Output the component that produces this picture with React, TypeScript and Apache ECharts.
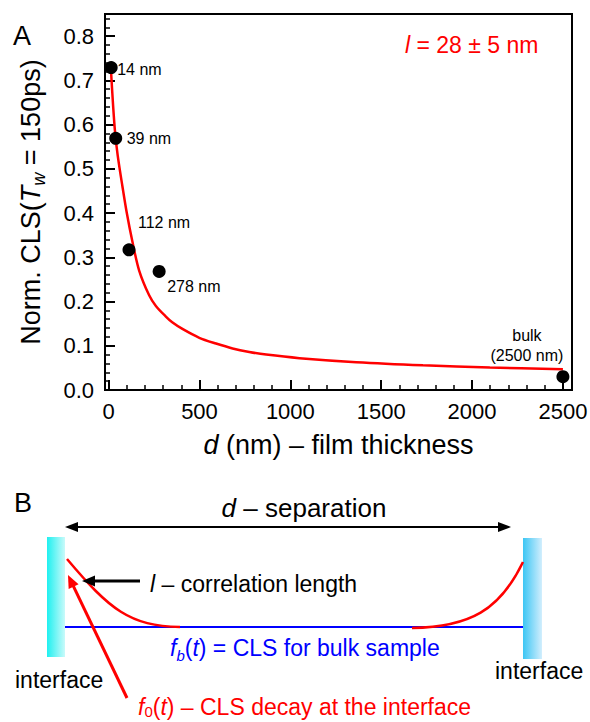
import React, { useEffect, useRef } from "react";
import * as echarts from "echarts";

// ---------- data ----------
const thicknessNm = [14, 39, 112, 278, 2500];
const normCLS = [0.729, 0.569, 0.317, 0.268, 0.03];
const pointLabels = ["14 nm", "39 nm", "112 nm", "278 nm", "bulk\n(2500 nm)"];

const fitD = [14, 25, 36, 50, 76, 100, 131, 168, 223, 260, 315, 350, 406, 499, 591, 682, 774, 867, 1050, 1363, 1730, 2098, 2500];
const fitCLS = [0.715, 0.64, 0.58, 0.53, 0.46, 0.4, 0.335, 0.27, 0.214, 0.19, 0.166, 0.153, 0.138, 0.118, 0.105, 0.094, 0.086, 0.08, 0.072, 0.063, 0.056, 0.051, 0.047];

const xMajorTicks = [0, 500, 1000, 1500, 2000, 2500];
const yMajorTicks = [0, 0.1, 0.2, 0.3, 0.4, 0.5, 0.6, 0.7, 0.8];
const xMinorTicks = Array.from({ length: 26 }, (_, i) => i * 100);
const yMinorTicks = Array.from({ length: 43 }, (_, i) => +(i * 0.02).toFixed(2));

const FONT = "'Liberation Sans', Arial, Helvetica, sans-serif";

// label placement per point (relative to point centre, px)
const labelPlacement = [
  { align: "left", offset: [6, 2] },
  { align: "left", offset: [11, 0] },
  { align: "left", offset: [9, -27] },
  { align: "left", offset: [8, 15] },
  { align: "center", offset: [-36, -31] },
];

function buildOption() {
  const scatterData = thicknessNm.map((d, i) => ({
    value: [d, normCLS[i]],
    label: {
      show: true,
      position: "inside",
      formatter: pointLabels[i],
      align: labelPlacement[i].align,
      verticalAlign: "middle",
      offset: labelPlacement[i].offset,
      fontSize: 16,
      lineHeight: 20,
      color: "#000",
      textBorderWidth: 0,
      fontFamily: FONT,
    },
  }));

  const fitData = fitD.map((d, i) => [d, fitCLS[i]]);

  const baseX = { type: "value", min: -20, max: 2550, splitLine: { show: false } };
  const baseY = { type: "value", min: 0, max: 0.85, splitLine: { show: false } };

  const nameRich = {
    n: { fontSize: 27, fontFamily: FONT, color: "#000", lineHeight: 34 },
    i: { fontSize: 27, fontFamily: FONT, color: "#000", fontStyle: "italic", lineHeight: 34 },
    s: { fontSize: 18, fontFamily: FONT, color: "#000", fontStyle: "italic", verticalAlign: "bottom", lineHeight: 18 },
  };

  const txt = (x: number, y: number, text: string, fontSize: number, fill: string, align = "left", rich?: any) => ({
    type: "text",
    x,
    y,
    style: {
      text,
      fontSize,
      fontFamily: FONT,
      fill,
      align,
      verticalAlign: "middle",
      textAlign: align,
      textVerticalAlign: "middle",
      rich,
    },
  });

  const richB = (color: string, lh = 30) => ({
    n: { fontSize: 23, fontFamily: FONT, fill: color, color, lineHeight: lh },
    i: { fontSize: 23, fontFamily: FONT, fill: color, color, fontStyle: "italic", lineHeight: lh },
    si: { fontSize: 15, fontFamily: FONT, fill: color, color, fontStyle: "italic", verticalAlign: "bottom", lineHeight: 15 },
    s: { fontSize: 15, fontFamily: FONT, fill: color, color, verticalAlign: "bottom", lineHeight: 15 },
    big: { fontSize: 26, fontFamily: FONT, fill: color, color, lineHeight: lh },
    bigi: { fontSize: 26, fontFamily: FONT, fill: color, color, fontStyle: "italic", lineHeight: lh },
  });

  const redArrowTip = [68, 575];
  const redArrowTail = [127, 698];
  const dx = redArrowTip[0] - redArrowTail[0];
  const dy = redArrowTip[1] - redArrowTail[1];
  const len = Math.sqrt(dx * dx + dy * dy);
  const ux = dx / len, uy = dy / len;
  const hl = 13, hw = 5.5;
  const bx = redArrowTip[0] - hl * ux, by = redArrowTip[1] - hl * uy;
  const px = -uy * hw, py = ux * hw;

  const graphic = [
    txt(22, 36, "A", 27, "#000", "center"),
    txt(23, 503, "B", 27, "#000", "center"),
    txt(405, 45, "{i|l}{n| = 28 ± 5 nm}", 23, "#ff0000", "left", richB("#ff0000")),
    // double arrow
    { type: "line", shape: { x1: 74, y1: 527, x2: 502, y2: 527 }, style: { stroke: "#000", lineWidth: 2 } },
    { type: "polygon", shape: { points: [[65, 527], [78, 522], [78, 532]] }, style: { fill: "#000" } },
    { type: "polygon", shape: { points: [[511, 527], [498, 522], [498, 532]] }, style: { fill: "#000" } },
    txt(304, 508, "{bigi|d}{big| – separation}", 26, "#000", "center", richB("#000")),
    // interfaces
    {
      type: "rect",
      shape: { x: 47, y: 537, width: 18, height: 120 },
      style: {
        fill: new echarts.graphic.LinearGradient(0, 0, 1, 0, [
          { offset: 0, color: "#1ff0f0" },
          { offset: 1, color: "#c9fafa" },
        ]),
      },
    },
    {
      type: "rect",
      shape: { x: 523, y: 538, width: 19, height: 121 },
      style: {
        fill: new echarts.graphic.LinearGradient(0, 0, 1, 0, [
          { offset: 0, color: "#3cc6f4" },
          { offset: 1, color: "#d2eefd" },
        ]),
      },
    },
    // bulk line
    { type: "line", shape: { x1: 65, y1: 627, x2: 523, y2: 627 }, style: { stroke: "#0000ff", lineWidth: 2 } },
    // decays
    {
      type: "bezierCurve",
      shape: { x1: 67, y1: 559, cpx1: 110, cpy1: 610, cpx2: 130, cpy2: 626, x2: 180, y2: 627 },
      style: { stroke: "#ff0000", lineWidth: 2.5, fill: "none" },
    },
    {
      type: "bezierCurve",
      shape: { x1: 412, y1: 628, cpx1: 470, cpy1: 627, cpx2: 500, cpy2: 610, x2: 523, y2: 562 },
      style: { stroke: "#ff0000", lineWidth: 2.5, fill: "none" },
    },
    // correlation length arrow
    { type: "line", shape: { x1: 92, y1: 581, x2: 140, y2: 581 }, style: { stroke: "#000", lineWidth: 3 } },
    { type: "polygon", shape: { points: [[82, 581], [95, 575.5], [95, 586.5]] }, style: { fill: "#000" } },
    txt(150, 584, "{i|l}{n| – correlation length}", 23, "#000", "left", richB("#000")),
    // red arrow
    { type: "line", shape: { x1: redArrowTail[0], y1: redArrowTail[1], x2: bx + ux * 2, y2: by + uy * 2 }, style: { stroke: "#ff0000", lineWidth: 3 } },
    {
      type: "polygon",
      shape: { points: [[redArrowTip[0], redArrowTip[1]], [bx + px, by + py], [bx - px, by - py]] },
      style: { fill: "#ff0000" },
    },
    txt(170, 648, "{i|f}{si|b}{n|(}{i|t}{n|) = CLS for bulk sample}", 23, "#0000ff", "left", richB("#0000ff")),
    txt(15, 680, "interface", 23, "#000", "left"),
    txt(495, 671, "interface", 23, "#000", "left"),
    txt(138, 707, "{i|f}{s|0}{n|(}{i|t}{n|) – CLS decay at the interface}", 23, "#ff0000", "left", richB("#ff0000", 24)),
  ];

  return {
    animation: false,
    backgroundColor: "#fff",
    textStyle: { fontFamily: FONT },
    grid: {
      left: 105,
      right: 18,
      top: 14,
      bottom: 332,
      show: true,
      borderColor: "#000",
      borderWidth: 2,
      containLabel: false,
      outerBoundsMode: "none",
    },
    xAxis: [
      {
        ...baseX,
        position: "bottom",
        axisLine: { show: true, onZero: false, lineStyle: { color: "#000", width: 2 } },
        axisTick: { show: true, inside: true, length: 10, customValues: xMajorTicks, lineStyle: { color: "#000", width: 2 } },
        axisLabel: {
          show: true,
          customValues: xMajorTicks,
          margin: 10,
          fontSize: 22,
          color: "#000",
          fontFamily: FONT,
          formatter: (v: number) => String(v),
        },
        name: "{i|d}{n| (nm) – film thickness}",
        nameLocation: "middle",
        nameGap: 38,
        nameTextStyle: { fontSize: 27, fontFamily: FONT, color: "#000", rich: nameRich },
      },
      {
        ...baseX,
        position: "bottom",
        axisLine: { show: false, onZero: false },
        axisTick: { show: true, inside: true, length: 5, customValues: xMinorTicks, lineStyle: { color: "#000", width: 1.5 } },
        axisLabel: { show: false },
      },
    ],
    yAxis: [
      {
        ...baseY,
        position: "left",
        axisLine: { show: true, onZero: false, lineStyle: { color: "#000", width: 2 } },
        axisTick: { show: true, inside: true, length: 10, customValues: yMajorTicks, lineStyle: { color: "#000", width: 2 } },
        axisLabel: {
          show: true,
          customValues: yMajorTicks,
          margin: 11,
          fontSize: 22,
          color: "#000",
          fontFamily: FONT,
          formatter: (v: number) => v.toFixed(1),
        },
        name: "{n|Norm. CLS(}{i|T}{s|w}{n| = 150ps)}",
        nameLocation: "middle",
        nameRotate: 90,
        nameGap: 57,
        nameTextStyle: { fontSize: 27, fontFamily: FONT, color: "#000", rich: nameRich },
      },
      {
        ...baseY,
        position: "left",
        axisLine: { show: false, onZero: false },
        axisTick: { show: true, inside: true, length: 5, customValues: yMinorTicks, lineStyle: { color: "#000", width: 1.5 } },
        axisLabel: { show: false },
      },
    ],
    series: [
      {
        type: "line",
        name: "fit",
        data: fitData,
        smooth: 0.3,
        showSymbol: false,
        symbol: "none",
        lineStyle: { color: "#ff0000", width: 2.5 },
        z: 2,
      },
      {
        type: "scatter",
        name: "data",
        data: scatterData,
        symbol: "circle",
        symbolSize: 13,
        itemStyle: { color: "#000", opacity: 1 },
        z: 3,
      },
    ],
    graphic,
  };
}

export default function App() {
  const ref = useRef<HTMLDivElement>(null);
  useEffect(() => {
    if (!ref.current) return;
    const chart = echarts.init(ref.current, null, { renderer: "svg" });
    chart.setOption(buildOption() as any);
    return () => chart.dispose();
  }, []);
  return (
    <div
      ref={ref}
      style={{ position: "fixed", left: 0, top: 0, width: 590, height: 722, background: "#fff" }}
    />
  );
}
